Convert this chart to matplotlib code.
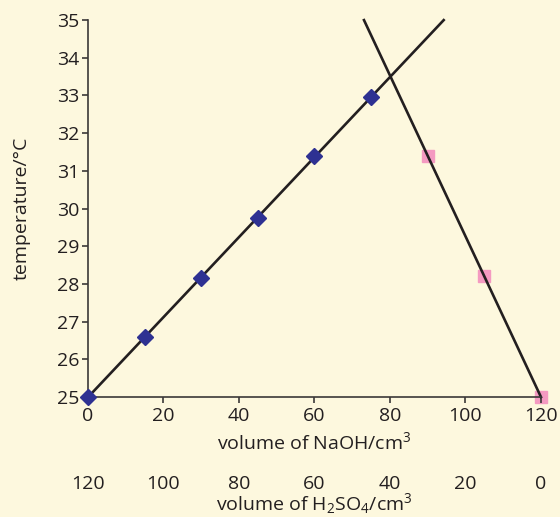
import numpy as np
import matplotlib
matplotlib.use("Agg")
import matplotlib.pyplot as plt

# readings taken off the graph
naoh_vol_a = [0, 15, 30, 45, 60, 75]
temp_a = [25.0, 26.6, 28.15, 29.75, 31.4, 32.95]
naoh_vol_b = [90, 105, 120]
temp_b = [31.4, 28.2, 25.0]

x_ticks = [0, 20, 40, 60, 80, 100, 120]
y_ticks = [25, 26, 27, 28, 29, 30, 31, 32, 33, 34, 35]
total_vol = 120

bg = '#fdf8de'
ink = '#231f20'
fs = 14

plt.rcParams['font.family'] = ['Open Sans', 'DejaVu Sans']
plt.rcParams['mathtext.fontset'] = 'custom'
plt.rcParams['mathtext.rm'] = 'Open Sans'
plt.rcParams['mathtext.default'] = 'regular'

fig = plt.figure(figsize=(5.6, 5.17), dpi=100, facecolor=bg)
ax = fig.add_axes([0.157, 0.2321, 0.809, 0.729])
ax.set_facecolor(bg)

# best fit lines through each set, extended up to the top of the axis
ymax = 35
m1, c1 = np.polyfit(naoh_vol_a, temp_a, 1)
m2, c2 = np.polyfit(naoh_vol_b, temp_b, 1)
xa = np.array([naoh_vol_a[0], (ymax - c1) / m1])
xb = np.array([(ymax - c2) / m2, naoh_vol_b[-1]])
ax.plot(xa, m1 * xa + c1, color=ink, lw=1.9, zorder=2, clip_on=False)
ax.plot(xb, m2 * xb + c2, color=ink, lw=1.9, zorder=2, clip_on=False)

ax.plot(naoh_vol_a, temp_a, ls='none', marker='D', ms=8, color='#2e3192',
        zorder=3, clip_on=False)
ax.plot(naoh_vol_b, temp_b, ls='none', marker='s', ms=8.5, color='#f49ac1',
        zorder=1, clip_on=False)

ax.set_xlim(0, 120)
ax.set_ylim(25, 35)
ax.set_xticks(x_ticks)
ax.set_yticks(y_ticks)
for s in ['top', 'right']:
    ax.spines[s].set_visible(False)
for s in ['left', 'bottom']:
    ax.spines[s].set_color('#3b3838')
    ax.spines[s].set_linewidth(1.2)
ax.tick_params(length=4, width=1.2, color='#3b3838', labelsize=fs,
               labelcolor=ink, pad=2)
ax.tick_params(axis='x', pad=3)

ax.set_xlabel('volume of NaOH/cm$^3$', fontsize=fs, color=ink, labelpad=5)
ax.set_ylabel('temperature/°C', fontsize=fs, color=ink, labelpad=19)

# second scale underneath for the acid
sec = ax.secondary_xaxis(-0.195, functions=(lambda v: total_vol - v,
                                            lambda v: total_vol - v))
sec.set_xticks(x_ticks)
sec.spines['bottom'].set_visible(False)
sec.tick_params(length=0, labelsize=fs, labelcolor=ink, pad=3)
sec.set_xlabel('volume of H$_2$SO$_4$/cm$^3$', fontsize=fs, color=ink,
               labelpad=-1)

fig.savefig('out.png', dpi=100, facecolor=bg)
